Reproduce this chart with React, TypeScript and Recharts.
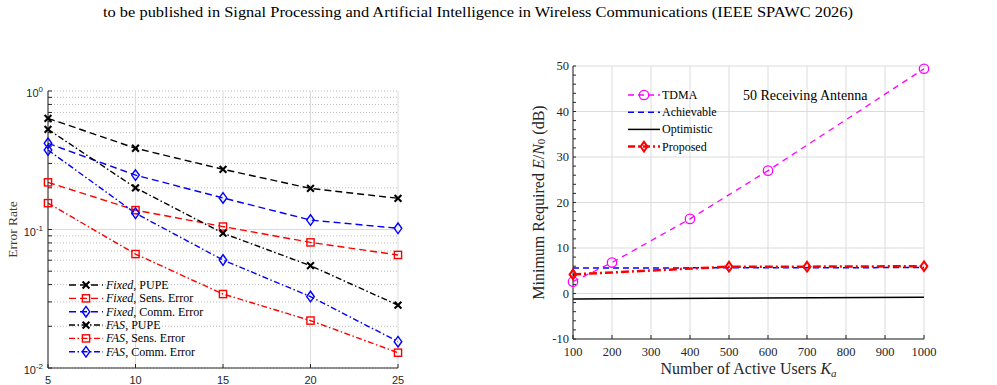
import React from "react";
import { LineChart, Line, XAxis, YAxis, CartesianGrid, ReferenceLine, Legend, Label, Customized } from "recharts";

// ---- left panel: error rate vs. number of users (log scale)
const users = [5, 10, 15, 20, 25];
const fixedPupe = [0.635, 0.386, 0.272, 0.198, 0.168];
const fixedSens = [0.219, 0.138, 0.105, 0.0807, 0.0655];
const fixedComm = [0.419, 0.247, 0.169, 0.117, 0.102];
const fasPupe = [0.529, 0.2, 0.094, 0.0548, 0.0284];
const fasSens = [0.155, 0.0665, 0.0342, 0.022, 0.0129];
const fasComm = [0.375, 0.131, 0.0602, 0.0328, 0.0155];
const errTicks = [
  0.01, 0.02, 0.03, 0.04, 0.05, 0.06, 0.07, 0.08, 0.09,
  0.1, 0.2, 0.3, 0.4, 0.5, 0.6, 0.7, 0.8, 0.9, 1,
];

// ---- right panel: required E/N0 vs. active users
const activeUsers = [100, 200, 300, 400, 500, 600, 700, 800, 900, 1000];
const tdma = [2.6, 6.8, null, 16.4, null, 27.0, null, null, null, 49.4];
const achievable = [5.6, null, null, null, null, null, null, null, null, 5.7];
const optimistic = [-1.2, null, null, null, null, null, null, null, null, -0.85];
const proposed = [4.2, null, null, null, 5.9, null, 5.9, null, null, 6.0];
const ebTicks = [
  -10, -8, -6, -4, -2, 0, 2, 4, 6, 8, 10, 12, 14, 16, 18, 20, 22, 24, 26, 28, 30,
  32, 34, 36, 38, 40, 42, 44, 46, 48, 50,
];
const ebMajor = [-10, 0, 10, 20, 30, 40, 50];

const headerText =
  "to be published in Signal Processing and Artificial Intelligence in Wireless Communications (IEEE SPAWC 2026)";

const AXIS = "#262626";
const GRID = "#dcdcdc";
const SERIF = "Liberation Serif, Times New Roman, Times, DejaVu Serif, serif";
const SANS = "Liberation Sans, Arial, Helvetica, sans-serif";

type Shape = "cross" | "square" | "diamond" | "circle" | "none";

function Marker({ shape, cx, cy, color, sw, big }: any) {
  if (shape === "cross") {
    const d = 3.4;
    return (
      <path
        d={`M${cx - d},${cy - d}L${cx + d},${cy + d}M${cx - d},${cy + d}L${cx + d},${cy - d}`}
        stroke={color}
        strokeWidth={sw + 0.7}
        fill="none"
      />
    );
  }
  if (shape === "square") {
    const s = 3.6;
    return <rect x={cx - s} y={cy - s} width={2 * s} height={2 * s} fill="none" stroke={color} strokeWidth={sw} />;
  }
  if (shape === "diamond") {
    const w = big ? 3.4 : 3.8;
    const h = big ? 4.8 : 5.3;
    return (
      <path
        d={`M${cx},${cy - h}L${cx + w},${cy}L${cx},${cy + h}L${cx - w},${cy}Z`}
        fill="none"
        stroke={color}
        strokeWidth={sw}
      />
    );
  }
  if (shape === "circle") {
    return <circle cx={cx} cy={cy} r={4.7} fill="none" stroke={color} strokeWidth={sw} />;
  }
  return null;
}

const makeDot = (name: string, shape: Shape, color: string, sw: number, big = false) => (p: any) => {
  const k = `${name}-${p.index}`;
  if (p.value == null || !Number.isFinite(p.cy)) return <g key={k} />;
  return <Marker key={k} shape={shape} cx={p.cx} cy={p.cy} color={color} sw={sw} big={big} />;
};

const leftSeries = [
  { key: "fixedPupe", name: "Fixed", rest: ", PUPE", color: "#000000", dash: "7 4", shape: "cross" as Shape },
  { key: "fixedSens", name: "Fixed", rest: ", Sens. Error", color: "#ff0000", dash: "7 4", shape: "square" as Shape },
  { key: "fixedComm", name: "Fixed", rest: ", Comm. Error", color: "#0000ff", dash: "7 4", shape: "diamond" as Shape },
  { key: "fasPupe", name: "FAS", rest: ", PUPE", color: "#000000", dash: "6 2.5 1.5 2.5", shape: "cross" as Shape },
  { key: "fasSens", name: "FAS", rest: ", Sens. Error", color: "#ff0000", dash: "6 2.5 1.5 2.5", shape: "square" as Shape },
  { key: "fasComm", name: "FAS", rest: ", Comm. Error", color: "#0000ff", dash: "6 2.5 1.5 2.5", shape: "diamond" as Shape },
];

const errRows = users.map((u, i) => ({
  u,
  fixedPupe: fixedPupe[i],
  fixedSens: fixedSens[i],
  fixedComm: fixedComm[i],
  fasPupe: fasPupe[i],
  fasSens: fasSens[i],
  fasComm: fasComm[i],
}));

const ebRows = activeUsers.map((x, i) => ({
  x,
  tdma: tdma[i],
  achievable: achievable[i],
  optimistic: optimistic[i],
  proposed: proposed[i],
}));

const LogTick = (props: any) => {
  const { x, y, payload } = props;
  const exp = Math.round(Math.log10(payload.value));
  if (Math.abs(payload.value - Math.pow(10, exp)) > 1e-9) return <g />;
  return (
    <text x={x} y={y + 6} textAnchor="end" fill={AXIS} style={{ fontFamily: SANS, fontSize: 11 }}>
      10
      <tspan dy={-5} style={{ fontSize: 8 }}>
        {exp}
      </tspan>
    </text>
  );
};

const EbTick = (props: any) => {
  const { x, y, payload } = props;
  if (payload.value % 10 !== 0) return <g />;
  return (
    <text x={x} y={y + 4} textAnchor="end" fill={AXIS} style={{ fontFamily: SERIF, fontSize: 12.5 }}>
      {payload.value}
    </text>
  );
};

// axis titles sit at fixed spots next to the plot frames
const ErrorRateTitle = () => {
  const cx = 12;
  const cy = 229.5;
  return (
    <text
      x={cx}
      y={cy}
      transform={`rotate(-90 ${cx} ${cy})`}
      textAnchor="middle"
      dominantBaseline="central"
      fill="#3a3a3a"
      style={{ fontFamily: SERIF, fontSize: 13.5 }}
    >
      Error Rate
    </text>
  );
};

const EbTitle = () => {
  const cx = 38;
  const cy = 202.5;
  return (
    <text
      x={cx}
      y={cy}
      transform={`rotate(-90 ${cx} ${cy})`}
      textAnchor="middle"
      dominantBaseline="central"
      fill={AXIS}
      style={{ fontFamily: SERIF, fontSize: 16 }}
    >
      Minimum Required <tspan fontStyle="italic">E</tspan>/<tspan fontStyle="italic">N</tspan>
      <tspan dy={3} style={{ fontSize: 11 }}>
        0
      </tspan>
      <tspan dy={-3}> (dB)</tspan>
    </text>
  );
};

const UsersTitle = (props: any) => {
  const vb = props.viewBox;
  const cx = vb.x + vb.width / 2;
  return (
    <text x={cx} y={vb.y + 35} textAnchor="middle" fill={AXIS} style={{ fontFamily: SERIF, fontSize: 16 }}>
      Number of Active Users <tspan fontStyle="italic">K</tspan>
      <tspan dy={3} fontStyle="italic" style={{ fontSize: 11 }}>
        a
      </tspan>
    </text>
  );
};

const LeftLegend = () => (
  <svg width={170} height={84}>
    {leftSeries.map((s, i) => {
      const y = 7 + i * 13.35;
      return (
        <g key={s.key}>
          <line x1={0} x2={34} y1={y} y2={y} stroke={s.color} strokeWidth={1.4} strokeDasharray={s.dash} />
          <Marker shape={s.shape} cx={17} cy={y} color={s.color} sw={1.4} />
          <text x={37} y={y + 4} fill="#000" style={{ fontFamily: SERIF, fontSize: 12 }}>
            <tspan fontStyle="italic">{s.name}</tspan>
            {s.rest}
          </text>
        </g>
      );
    })}
  </svg>
);

const rightLegendItems = [
  { label: "TDMA", color: "#ff00ff", dash: "6 4", width: 1.3, shape: "circle" as Shape },
  { label: "Achievable", color: "#0000ff", dash: "6 4", width: 1.5, shape: "none" as Shape },
  { label: "Optimistic", color: "#000000", dash: undefined, width: 1.5, shape: "none" as Shape },
  { label: "Proposed", color: "#ff0000", dash: "7 3 2 3", width: 2.5, shape: "diamond" as Shape },
];

const RightLegend = () => (
  <svg width={110} height={70}>
    {rightLegendItems.map((s, i) => {
      const y = 8 + i * 17.2;
      return (
        <g key={s.label}>
          <line x1={0} x2={32} y1={y} y2={y} stroke={s.color} strokeWidth={s.width} strokeDasharray={s.dash} />
          <Marker shape={s.shape} cx={16} cy={y} color={s.color} sw={s.shape === "diamond" ? 2 : 1.3} big />
          <text x={34} y={y + 4} fill="#000" style={{ fontFamily: SERIF, fontSize: 12 }}>
            {s.label}
          </text>
        </g>
      );
    })}
  </svg>
);

const ErrorRateChart = () => (
  <LineChart width={420} height={400} data={errRows} margin={{ top: 91, right: 22, bottom: 2, left: 8 }}>
    <CartesianGrid vertical={false} stroke="#bcbcbc" strokeDasharray="1 2" />
    <CartesianGrid horizontal={false} stroke={GRID} />
    <ReferenceLine y={0.1} stroke={GRID} strokeWidth={1} />
    <XAxis
      xAxisId="top"
      orientation="top"
      dataKey="u"
      type="number"
      domain={[5, 25]}
      ticks={users}
      interval={0}
      tick={false}
      tickSize={-4}
      height={0}
      stroke={AXIS}
    />
    <XAxis
      dataKey="u"
      type="number"
      domain={[5, 25]}
      ticks={users}
      interval={0}
      tickSize={-4}
      tickMargin={12}
      height={30}
      stroke={AXIS}
      tick={{ fill: AXIS, fontSize: 11, fontFamily: SANS }}
    />
    <YAxis
      yAxisId="right"
      orientation="right"
      type="number"
      scale="log"
      domain={[0.01, 1]}
      allowDataOverflow
      ticks={errTicks}
      interval={0}
      tick={false}
      tickSize={-4}
      width={0}
      stroke={AXIS}
    />
    <YAxis
      type="number"
      scale="log"
      domain={[0.01, 1]}
      allowDataOverflow
      ticks={errTicks}
      interval={0}
      tick={<LogTick />}
      tickSize={-4}
      tickMargin={9}
      width={40}
      stroke={AXIS}
    >
      <Label content={<ErrorRateTitle />} />
    </YAxis>
    {leftSeries.map((s) => (
      <Line
        key={s.key}
        type="linear"
        dataKey={s.key}
        stroke={s.color}
        strokeWidth={1.4}
        strokeDasharray={s.dash}
        dot={makeDot(s.key, s.shape, s.color, 1.4)}
        activeDot={false}
        isAnimationActive={false}
      />
    ))}
    <Legend
      layout="vertical"
      align="center"
      verticalAlign="middle"
      content={<LeftLegend />}
      wrapperStyle={{ left: 69, top: 278, width: 170, height: 84 }}
    />
  </LineChart>
);

const EbChart = () => (
  <LineChart width={497} height={400} data={ebRows} margin={{ top: 66, right: 73, bottom: 16, left: 33 }}>
    <CartesianGrid stroke={GRID} horizontalValues={ebMajor} verticalValues={activeUsers} />
    <XAxis
      xAxisId="top"
      orientation="top"
      dataKey="x"
      type="number"
      domain={[100, 1000]}
      ticks={activeUsers}
      interval={0}
      tick={false}
      tickSize={-4}
      height={0}
      stroke={AXIS}
    />
    <XAxis
      dataKey="x"
      type="number"
      domain={[100, 1000]}
      ticks={activeUsers}
      interval={0}
      tickSize={-4}
      tickMargin={12}
      height={45}
      stroke={AXIS}
      tick={{ fill: AXIS, fontSize: 12.5, fontFamily: SERIF }}
    >
      <Label content={<UsersTitle />} />
    </XAxis>
    <YAxis
      yAxisId="right"
      orientation="right"
      type="number"
      domain={[-10, 50]}
      ticks={ebTicks}
      interval={0}
      tick={false}
      tickSize={-3}
      width={0}
      stroke={AXIS}
    />
    <YAxis
      type="number"
      domain={[-10, 50]}
      ticks={ebTicks}
      interval={0}
      tick={<EbTick />}
      tickSize={-3}
      tickMargin={7}
      width={40}
      stroke={AXIS}
    >
      <Label content={<EbTitle />} />
    </YAxis>
    <Line
      dataKey="achievable"
      stroke="#0000ff"
      strokeWidth={1.5}
      strokeDasharray="6 4"
      dot={false}
      activeDot={false}
      connectNulls
      isAnimationActive={false}
    />
    <Line
      dataKey="optimistic"
      stroke="#000000"
      strokeWidth={1.5}
      dot={false}
      activeDot={false}
      connectNulls
      isAnimationActive={false}
    />
    <Line
      dataKey="tdma"
      stroke="#ff00ff"
      strokeWidth={1.3}
      strokeDasharray="6 5"
      dot={makeDot("tdma", "circle", "#ff00ff", 1.3)}
      activeDot={false}
      connectNulls
      isAnimationActive={false}
    />
    <Line
      dataKey="proposed"
      stroke="#ff0000"
      strokeWidth={2.5}
      strokeDasharray="8 3 2 3"
      dot={makeDot("proposed", "diamond", "#ff0000", 2, true)}
      activeDot={false}
      connectNulls
      isAnimationActive={false}
    />
    <Customized
      component={() => (
        <text x={243} y={100} fill="#000" style={{ fontFamily: SERIF, fontSize: 14 }}>
          50 Receiving Antenna
        </text>
      )}
    />
    <Legend
      layout="vertical"
      align="center"
      verticalAlign="middle"
      content={<RightLegend />}
      wrapperStyle={{ left: 128, top: 87, width: 110, height: 70 }}
    />
  </LineChart>
);

export default function App() {
  return (
    <div
      style={{
        position: "absolute",
        left: 0,
        top: 0,
        width: 997,
        height: 385,
        overflow: "hidden",
        background: "#ffffff",
      }}
    >
      <svg width={997} height={30} style={{ position: "absolute", left: 0, top: 0 }}>
        <text
          x={478}
          y={17}
          textAnchor="middle"
          textLength={750}
          lengthAdjust="spacingAndGlyphs"
          fill="#000"
          style={{ fontFamily: SERIF, fontSize: 14.5 }}
        >
          {headerText}
        </text>
      </svg>
      <div style={{ position: "absolute", left: 0, top: 0 }}>
        <ErrorRateChart />
      </div>
      <div style={{ position: "absolute", left: 500, top: 0 }}>
        <EbChart />
      </div>
    </div>
  );
}
